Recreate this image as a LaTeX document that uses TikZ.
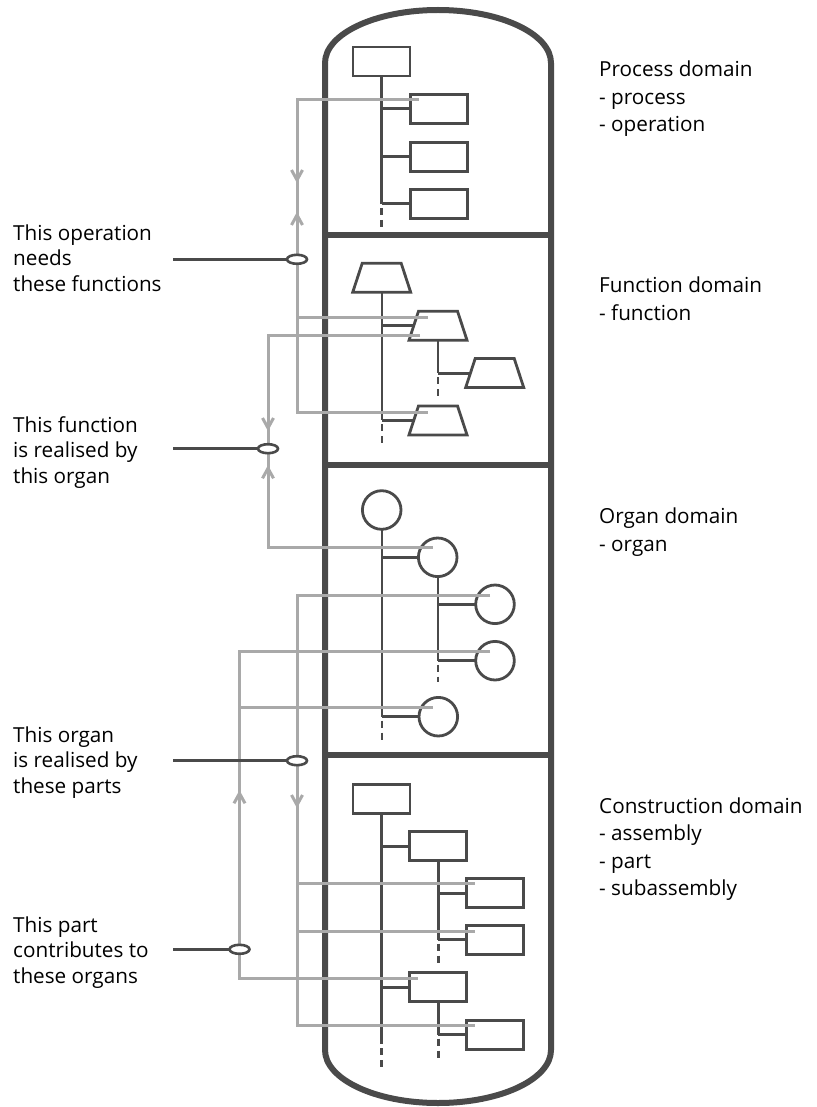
\documentclass[tikz,border=0pt]{standalone}
\usepackage{fontspec}
\setmainfont{Open Sans}
\usetikzlibrary{shapes.geometric,calc}
\definecolor{dk}{HTML}{4A4A4A}
\definecolor{lg}{HTML}{A9A9A9}

\begin{document}
\begin{tikzpicture}[x=1pt,y=-1pt,
  wall/.style={draw=dk, line width=6pt, line join=round},
  divider/.style={draw=dk, line width=6.5pt},
  boxnode/.style={draw=dk, line width=2.8pt, rectangle, minimum width=57pt, minimum height=29pt, inner sep=0pt, outer sep=0pt},
  trapframe/.style={rectangle, minimum width=58pt, minimum height=29pt, inner sep=0pt, outer sep=0pt},
  trapline/.style={draw=dk, line width=2.8pt, line join=miter},
  circnode/.style={draw=dk, line width=2.8pt, circle, minimum size=38.6pt, inner sep=0pt, outer sep=0pt},
  treeline/.style={draw=dk, line width=2.4pt},
  branch/.style={draw=dk, line width=3pt},
  tail/.style={draw=dk, line width=2.4pt, dash pattern=on 7pt off 5pt},
  link/.style={draw=lg, line width=3pt},
  ring/.style={draw=dk, fill=white, line width=2.6pt, ellipse, minimum width=20pt, minimum height=9pt, inner sep=0pt, outer sep=0pt},
  pointer/.style={draw=dk, line width=3pt},
  lblR/.style={anchor=base west, inner sep=0pt, align=left, text=black, font=\fontsize{20.7}{27.5}\selectfont},
  lblL/.style={anchor=base west, inner sep=0pt, align=left, text=black, font=\fontsize{20.7}{25.7}\selectfont},
  chevdown/.pic={\draw[link] (-5.5,-10) -- (0,0) -- (5.5,-10);},
  chevup/.pic={\draw[link] (-5.5,10) -- (0,0) -- (5.5,10);},
]
\fill[white] (0,0) rectangle (816,1107);
\useasboundingbox (0,0) rectangle (816,1107);

% container with rounded ends and domain dividers
\draw[wall] (325,63) -- (325,1050)
  arc[start angle=180, end angle=0, x radius=113, y radius=53]
  -- (551,63)
  arc[start angle=0, end angle=-180, x radius=113, y radius=53] -- cycle;
\draw[divider] (325,235) -- (551,235);
\draw[divider] (325,465) -- (551,465);
\draw[divider] (325,755) -- (551,755);

% process domain
\node[boxnode] (p0) at (381.5,61.5) {};
\node[boxnode] (p1) at (439,109) {};
\node[boxnode] (p2) at (439,156.7) {};
\node[boxnode] (p3) at (439,204) {};
\draw[treeline] (p0.south) -- (p0.south |- p3.west);
\draw[tail] ($(p0.south |- p3.west)+(0,4)$) -- ++(0,19);
\foreach \c in {p1,p2,p3} \draw[branch] (p0.south |- \c.west) -- (\c.west);

% function domain: trapezoids drawn on named frames
\node[trapframe] (f0) at (381.7,277.8) {};
\node[trapframe] (f1) at (438,325.7) {};
\node[trapframe] (f2) at (494.7,373) {};
\node[trapframe] (f3) at (438,420.4) {};
\foreach \f in {f0,f1,f2,f3} {
  \draw[trapline] (\f.south west) -- ($(\f.north west)+(9.5,0)$)
    -- ($(\f.north east)+(-9.5,0)$) -- (\f.south east) -- cycle;
  \coordinate (\f l) at ($(\f.west)+(4.75,0)$);
}
\draw[treeline] (f0.south) -- (f0.south |- f3l);
\draw[tail] ($(f0.south |- f3l)+(0,4)$) -- ++(0,19);
\draw[treeline] (f1.south) -- (f1.south |- f2l);
\draw[tail] ($(f1.south |- f2l)+(0,4)$) -- ++(0,19);
\draw[branch] (f0.south |- f1l) -- (f1l);
\draw[branch] (f0.south |- f3l) -- (f3l);
\draw[branch] (f1.south |- f2l) -- (f2l);

% organ domain
\node[circnode] (o0) at (381.7,510) {};
\node[circnode] (o1) at (437.7,557.3) {};
\node[circnode] (o2) at (495,604.3) {};
\node[circnode] (o3) at (495,660.7) {};
\node[circnode] (o4) at (438.3,716.7) {};
\draw[treeline] (o0.south) -- (o0.south |- o4.west);
\draw[tail] ($(o0.south |- o4.west)+(0,4)$) -- ++(0,19);
\draw[treeline] (o1.south) -- (o1.south |- o3.west);
\draw[tail] ($(o1.south |- o3.west)+(0,4)$) -- ++(0,17);
\draw[branch] (o0.south |- o1.west) -- (o1.west);
\draw[branch] (o0.south |- o4.west) -- (o4.west);
\draw[branch] (o1.south |- o2.west) -- (o2.west);
\draw[branch] (o1.south |- o3.west) -- (o3.west);

% construction domain
\node[boxnode] (c0) at (381.4,798.7) {};
\node[boxnode] (c1) at (438.3,846.2) {};
\node[boxnode] (c2) at (494.7,893.3) {};
\node[boxnode] (c3) at (494.7,939.7) {};
\node[boxnode] (c4) at (438.3,987.3) {};
\node[boxnode] (c5) at (494.7,1034.7) {};
\coordinate (c0end) at (381.4,1044);
\draw[treeline] (c0.south) -- (c0end);
\draw[tail] ($(c0end)+(0,4)$) -- ++(0,19);
\draw[treeline] (c1.south) -- (c1.south |- c3.west);
\draw[tail] ($(c1.south |- c3.west)+(0,4)$) -- ++(0,19);
\draw[treeline] (c4.south) -- (c4.south |- c5.west);
\draw[tail] ($(c4.south |- c5.west)+(0,4)$) -- ++(0,19);
\draw[branch] (c0.south |- c1.west) -- (c1.west);
\draw[branch] (c0.south |- c4.west) -- (c4.west);
\draw[branch] (c1.south |- c2.west) -- (c2.west);
\draw[branch] (c1.south |- c3.west) -- (c3.west);
\draw[branch] (c4.south |- c5.west) -- (c5.west);

% cross-domain relation lines
\coordinate (e1c) at (297,259.3);
\coordinate (e2c) at (268,448.7);
\coordinate (e3c) at (297,760.7);
\coordinate (e4c) at (239.5,949.3);
\coordinate (a1) at (419,100);
\coordinate (a2) at (428,412);
\coordinate (b1) at (428,317.3);
\coordinate (a3) at (420,335);
\coordinate (a4) at (433,547.3);
\coordinate (a5) at (490,595);
\coordinate (a6) at (475,1025.7);
\coordinate (b3) at (475,883.3);
\coordinate (b4) at (475,931);
\coordinate (a7) at (490,651.7);
\coordinate (a8) at (418,978.3);
\coordinate (b5) at (433,707.7);

\draw[link] (a1) -| (e1c) |- (a2);
\draw[link] (e1c |- b1) -- (b1);
\draw[link] (a3) -| (e2c) |- (a4);
\draw[link] (a5) -| (e3c) |- (a6);
\draw[link] (e3c |- b3) -- (b3);
\draw[link] (e3c |- b4) -- (b4);
\draw[link] (a7) -| (e4c) |- (a8);
\draw[link] (e4c |- b5) -- (b5);

\pic at (297,180) {chevdown};
\pic at (297,215) {chevup};
\pic at (268,428) {chevdown};
\pic at (268,468.3) {chevup};
\pic at (239.5,793.3) {chevup};
\pic at (297,805) {chevdown};

% annotation pointers
\node[ring] (e1) at (e1c) {};
\node[ring] (e2) at (e2c) {};
\node[ring] (e3) at (e3c) {};
\node[ring] (e4) at (e4c) {};
\coordinate (q1) at (173,259.3);
\coordinate (q2) at (173,448.7);
\coordinate (q3) at (173,760.7);
\coordinate (q4) at (173,949.3);
\draw[pointer] (q1) -- (e1.west);
\draw[pointer] (q2) -- (e2.west);
\draw[pointer] (q3) -- (e3.west);
\draw[pointer] (q4) -- (e4.west);

% labels (placed at the baseline of their last line)
\node[lblR] (tproc) at (599,131.7) {Process domain\\- process\\- operation};
\node[lblR] (tfunc) at (599,320.2) {Function domain\\- function};
\node[lblR] (torg) at (599,551.2) {Organ domain\\- organ};
\node[lblR] (tcons) at (599,895.8) {Construction domain\\- assembly\\- part\\- subassembly};

\node[lblL] (l1) at (13,291.5) {This operation\\needs\\these functions};
\node[lblL] (l2) at (13,483.5) {This function\\is realised by\\this organ};
\node[lblL] (l3) at (13,793.5) {This organ\\is realised by\\these parts};
\node[lblL] (l4) at (13,983.5) {This part\\contributes to\\these organs};
\end{tikzpicture}
\end{document}
